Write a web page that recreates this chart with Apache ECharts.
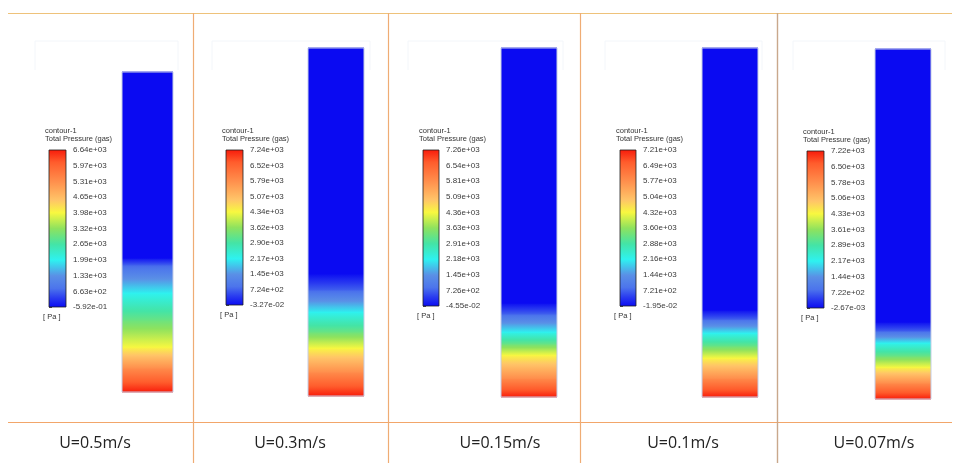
<!DOCTYPE html>
<html>
<head>
<meta charset="utf-8">
<script src="https://cdn.jsdelivr.net/npm/echarts@6/dist/echarts.min.js"></script>
<style>
  html, body { margin: 0; padding: 0; background: #ffffff; }
  #chart { width: 958px; height: 463px; }
</style>
</head>
<body>
<div id="chart"></div>
<script>
// Superficial gas velocity of each case
const caseLabels = ['U=0.5m/s', 'U=0.3m/s', 'U=0.15m/s', 'U=0.1m/s', 'U=0.07m/s'];

// Contour legend tick labels (bottom to top), one list per case
const legendTicks1 = ['-5.92e-01', '6.63e+02', '1.33e+03', '1.99e+03', '2.65e+03', '3.32e+03', '3.98e+03', '4.65e+03', '5.31e+03', '5.97e+03', '6.64e+03'];
const legendTicks2 = ['-3.27e-02', '7.24e+02', '1.45e+03', '2.17e+03', '2.90e+03', '3.62e+03', '4.34e+03', '5.07e+03', '5.79e+03', '6.52e+03', '7.24e+03'];
const legendTicks3 = ['-4.55e-02', '7.26e+02', '1.45e+03', '2.18e+03', '2.91e+03', '3.63e+03', '4.36e+03', '5.09e+03', '5.81e+03', '6.54e+03', '7.26e+03'];
const legendTicks4 = ['-1.95e-02', '7.21e+02', '1.44e+03', '2.16e+03', '2.88e+03', '3.60e+03', '4.32e+03', '5.04e+03', '5.77e+03', '6.49e+03', '7.21e+03'];
const legendTicks5 = ['-2.67e-03', '7.22e+02', '1.44e+03', '2.17e+03', '2.89e+03', '3.61e+03', '4.33e+03', '5.06e+03', '5.78e+03', '6.50e+03', '7.22e+03'];

// Legend range (Pa)
const legendMin = [-0.592, -0.0327, -0.0455, -0.0195, -0.00267];
const legendMax = [6640, 7240, 7260, 7210, 7220];

// Total pressure along the column: relative height above the bottom (0..1) and pressure (Pa)
const profileHeight1 = [0, 0.075, 0.141, 0.225, 0.309, 0.397, 0.419, 1];
const profilePressure1 = [6640, 5310, 3980, 2990, 1990, 660, 0, 0];
const profileHeight2 = [0, 0.069, 0.138, 0.184, 0.241, 0.305, 0.351, 1];
const profilePressure2 = [7240, 5790, 4340, 3260, 2170, 720, 0, 0];
const profileHeight3 = [0, 0.054, 0.120, 0.152, 0.186, 0.238, 0.269, 1];
const profilePressure3 = [7260, 5810, 4360, 3270, 2180, 730, 0, 0];
const profileHeight4 = [0, 0.054, 0.112, 0.146, 0.183, 0.223, 0.249, 1];
const profilePressure4 = [7210, 5770, 4330, 3240, 2160, 720, 0, 0];
const profileHeight5 = [0, 0.046, 0.091, 0.123, 0.160, 0.194, 0.220, 1];
const profilePressure5 = [7220, 5780, 4330, 3250, 2170, 720, 0, 0];

const legendTicks = [legendTicks1, legendTicks2, legendTicks3, legendTicks4, legendTicks5];
const profileHeights = [profileHeight1, profileHeight2, profileHeight3, profileHeight4, profileHeight5];
const profilePressures = [profilePressure1, profilePressure2, profilePressure3, profilePressure4, profilePressure5];

// Rainbow colour map used by the contour plots
const colormapStops = [
  [0.00, '#0a0af2'],
  [0.06, '#2a3cf0'],
  [0.12, '#4c74ec'],
  [0.20, '#5a90e6'],
  [0.30, '#2ef2f0'],
  [0.40, '#44e4a6'],
  [0.50, '#8ee25e'],
  [0.60, '#f8f840'],
  [0.68, '#ffc468'],
  [0.80, '#ff8e4c'],
  [0.92, '#ff5c2c'],
  [1.00, '#f81a0a']
];

function hexToRgb(h) {
  return [parseInt(h.slice(1, 3), 16), parseInt(h.slice(3, 5), 16), parseInt(h.slice(5, 7), 16)];
}
function colorAt(t) {
  t = Math.max(0, Math.min(1, t));
  for (let i = 1; i < colormapStops.length; i++) {
    const a = colormapStops[i - 1], b = colormapStops[i];
    if (t <= b[0]) {
      const f = (t - a[0]) / (b[0] - a[0]);
      const ca = hexToRgb(a[1]), cb = hexToRgb(b[1]);
      const c = ca.map((v, k) => Math.round(v + (cb[k] - v) * f));
      return 'rgb(' + c.join(',') + ')';
    }
  }
  return colormapStops[colormapStops.length - 1][1];
}

// Plot boxes: contour column and legend bar of each case
const columnBoxes = [
  { left: 122, top: 72, width: 51, height: 320 },
  { left: 308, top: 48, width: 56, height: 348 },
  { left: 501, top: 48, width: 56, height: 349 },
  { left: 702, top: 48, width: 56, height: 349 },
  { left: 875, top: 49, width: 56, height: 350 }
];
const legendBoxes = [
  { left: 49, top: 150, width: 17, height: 157 },
  { left: 226, top: 150, width: 17, height: 155 },
  { left: 423, top: 150, width: 16, height: 156 },
  { left: 620, top: 150, width: 16, height: 156 },
  { left: 807, top: 151, width: 17, height: 157 }
];
const labelCenters = [95, 290, 500, 683, 874];

const grids = [], xAxes = [], yAxes = [], series = [], graphics = [];

for (let p = 0; p < 5; p++) {
  const lo = legendMin[p], hi = legendMax[p];
  const norm = v => (v - lo) / (hi - lo);

  // contour column
  const cg = grids.length;
  grids.push(Object.assign({ containLabel: false }, columnBoxes[p]));
  xAxes.push({ gridIndex: cg, type: 'value', min: 0, max: 1, show: false });
  yAxes.push({ gridIndex: cg, type: 'value', min: 0, max: 1, show: false });
  const hs = profileHeights[p], ps = profilePressures[p];
  const segData = [];
  for (let i = 0; i < hs.length - 1; i++) segData.push([hs[i], ps[i], hs[i + 1], ps[i + 1]]);
  series.push({
    type: 'custom',
    xAxisIndex: cg, yAxisIndex: cg,
    silent: true,
    data: segData,
    renderItem: function (params, api) {
      const h0 = api.value(0), v0 = api.value(1), h1 = api.value(2), v1 = api.value(3);
      const a = api.coord([0, h0]), b = api.coord([1, h1]);
      const stops = [];
      const n = 12;
      for (let k = 0; k <= n; k++) {
        const f = k / n; // 0 at top of segment
        const v = v1 + (v0 - v1) * f;
        stops.push({ offset: f, color: colorAt(norm(v)) });
      }
      const children = [{
        type: 'rect',
        shape: { x: a[0], y: b[1] - 0.5, width: b[0] - a[0], height: a[1] - b[1] + 1 },
        style: { fill: new echarts.graphic.LinearGradient(0, 0, 0, 1, stops) }
      }];
      if (params.dataIndex === 0) {
        const t = api.coord([0, 1]), r = api.coord([1, 0]);
        children.push({
          type: 'rect', z2: 10,
          shape: { x: t[0], y: t[1], width: r[0] - t[0], height: r[1] - t[1] },
          style: { fill: 'none', stroke: '#c4cde6', lineWidth: 1 }
        });
      }
      return { type: 'group', children: children };
    }
  });

  // legend bar
  const lg = grids.length;
  grids.push(Object.assign({ containLabel: false }, legendBoxes[p]));
  xAxes.push({ gridIndex: lg, type: 'value', min: 0, max: 1, show: false });
  const ticks = legendTicks[p];
  yAxes.push({
    gridIndex: lg, type: 'value', min: 0, max: 10, interval: 1, position: 'right',
    axisLine: { show: false },
    axisTick: { show: true, length: 3, lineStyle: { color: '#555', width: 1 } },
    splitLine: { show: false },
    axisLabel: {
      margin: 7, fontSize: 8, color: '#3a3a3a', fontFamily: 'Liberation Sans, Arial, sans-serif',
      formatter: v => ticks[Math.round(v)]
    }
  });
  series.push({
    type: 'custom',
    xAxisIndex: lg, yAxisIndex: lg,
    silent: true,
    data: [[0, 0, 1, 10]],
    renderItem: function (params, api) {
      const a = api.coord([api.value(0), api.value(1)]), b = api.coord([api.value(2), api.value(3)]);
      const stops = colormapStops.map(s => ({ offset: 1 - s[0], color: s[1] })).reverse();
      return {
        type: 'rect',
        shape: { x: a[0], y: b[1], width: b[0] - a[0], height: a[1] - b[1] },
        style: { fill: new echarts.graphic.LinearGradient(0, 0, 0, 1, stops), stroke: '#1e1e1e', lineWidth: 0.8 }
      };
    }
  });

  // legend titles and unit
  const lb = legendBoxes[p];
  const tf = 'Liberation Sans, Arial, sans-serif';
  graphics.push({ type: 'text', left: lb.left - 4, top: lb.top - 23, style: { text: 'contour-1', fill: '#333', font: '7.5px ' + tf } });
  graphics.push({ type: 'text', left: lb.left - 4, top: lb.top - 15, style: { text: 'Total Pressure (gas)', fill: '#333', font: '7.5px ' + tf } });
  graphics.push({ type: 'text', left: lb.left - 6, top: lb.top + lb.height + 6, style: { text: '[ Pa ]', fill: '#333', font: '7.5px ' + tf } });

  // case label under the panel
  graphics.push({
    type: 'text', x: labelCenters[p], y: 443,
    style: { text: caseLabels[p], fill: '#222', font: '16px "Open Sans", "Noto Sans", sans-serif', textAlign: 'center', textVerticalAlign: 'middle' }
  });
}

// faint frames at the top of each panel
const headerFrames = [[35, 178], [212, 370], [408, 563], [605, 762], [793, 945]];
headerFrames.forEach(f => {
  graphics.push({ type: 'polyline', shape: { points: [[f[0], 70], [f[0], 41], [f[1], 41], [f[1], 70]] }, style: { stroke: '#f3f6fa', lineWidth: 1, fill: 'none' } });
});

// panel separators
graphics.push({ type: 'line', shape: { x1: 8, y1: 13.5, x2: 952, y2: 13.5 }, style: { stroke: '#eec27a', lineWidth: 1.2 } });
graphics.push({ type: 'line', shape: { x1: 8, y1: 422.5, x2: 952, y2: 422.5 }, style: { stroke: '#f2a66a', lineWidth: 1.2 } });
[193, 388, 580].forEach(x => {
  graphics.push({ type: 'line', shape: { x1: x + 0.5, y1: 13, x2: x + 0.5, y2: 463 }, style: { stroke: '#efac74', lineWidth: 1.2 } });
});
graphics.push({ type: 'line', shape: { x1: 777.5, y1: 13, x2: 777.5, y2: 463 }, style: { stroke: '#c9a88c', lineWidth: 1.4 } });

const chart = echarts.init(document.getElementById('chart'), null, { renderer: 'canvas' });
chart.setOption({
  backgroundColor: '#ffffff',
  animation: false,
  grid: grids,
  xAxis: xAxes,
  yAxis: yAxes,
  series: series,
  graphic: graphics
});
</script>
</body>
</html>
